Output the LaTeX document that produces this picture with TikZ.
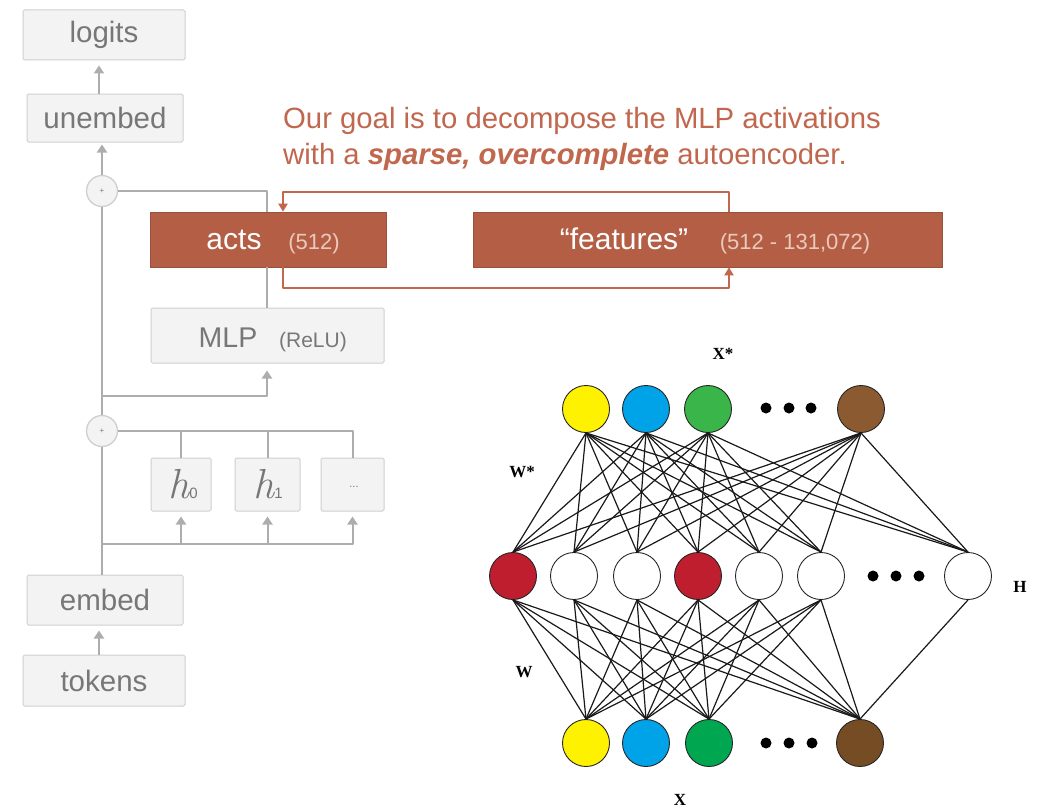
\documentclass[tikz,border=0pt]{standalone}
\usepackage{fontspec}
\setmainfont{Liberation Sans}
\newfontfamily\labfont{Liberation Serif}
\newfontfamily\lmfont{Latin Modern Roman}
\usetikzlibrary{arrows.meta,calc}
\definecolor{gfill}{HTML}{F3F3F3}
\definecolor{gborder}{HTML}{CFCFCF}
\definecolor{gconn}{HTML}{ADADAD}
\definecolor{gtext}{HTML}{777777}
\definecolor{boxred}{HTML}{B45F45}
\definecolor{redline}{HTML}{C0674E}
\definecolor{redlight}{HTML}{EBC9BC}
\definecolor{nyellow}{HTML}{FFF200}
\definecolor{nblue}{HTML}{00A2E8}
\definecolor{ngreenA}{HTML}{39B54A}
\definecolor{ngreenB}{HTML}{00A650}
\definecolor{nbrownA}{HTML}{8C5A30}
\definecolor{nbrownB}{HTML}{754C24}
\definecolor{nred}{HTML}{BE1E2D}
\begin{document}
\begin{tikzpicture}[x=1pt,y=-1pt,
  gbox/.style={draw=gborder, fill=gfill, line width=1pt, rounded corners=1.5pt, inner sep=0pt, text=gtext, font=\fontsize{29.5}{31}\selectfont},
  redbox/.style={fill=boxred, draw=boxred!85!black, line width=0.6pt, inner sep=0pt},
  wtext/.style={text=white, font=\fontsize{30}{32}\selectfont, inner sep=0pt},
  ltext/.style={text=redlight, font=\fontsize{22}{24}\selectfont, inner sep=0pt},
  gtxt/.style={text=gtext, inner sep=0pt},
  gwire/.style={draw=gconn, line width=2pt, line join=round},
  garrow/.style={draw=gconn, line width=2pt, line join=round, -{Triangle[width=10pt,length=8pt]}, shorten >=5pt},
  rarrow/.style={draw=redline, line width=2pt, line join=round, -{Triangle[width=9pt,length=8pt]}},
  pcirc/.style={circle, draw=gborder, fill=gfill, line width=1.3pt, minimum size=31pt, inner sep=0pt, text=gtext, font=\fontsize{8}{8}\selectfont},
  neuron/.style={circle, draw=black!85, line width=0.9pt, minimum size=47pt, inner sep=0pt},
  nedge/.style={draw=black!90, line width=1.2pt},
  ndot/.style={circle, fill=black, minimum size=11pt, inner sep=0pt},
  nlab/.style={font=\labfont\bfseries\fontsize{17}{17}\selectfont, inner sep=0pt},
  title/.style={text=redline, font=\fontsize{29.3}{32}\selectfont, inner sep=0pt}
]
\useasboundingbox (0,0) rectangle (1041,808);

% ---------- left: transformer ----------
\node[gbox, minimum width=162pt, minimum height=50pt] (logits) at (104,35) {logits};
\node[gbox, minimum width=156pt, minimum height=48pt] (unembed) at (105,118) {unembed};
\node[gbox, minimum width=233pt, minimum height=55pt] (MLP) at (267.5,335.5) {};
\node[gtxt, anchor=base, font=\fontsize{28.5}{30}\selectfont] (mlpT) at (228,347) {MLP};
\node[gtxt, anchor=base, font=\fontsize{21}{23}\selectfont] (mlpN) at (313,347) {(ReLU)};
\node[gbox, minimum width=60pt, minimum height=53pt] (h0) at (181,484.5) {};
\node[gbox, minimum width=65pt, minimum height=53pt] (h1) at (267.5,484.5) {};
\node[gbox, minimum width=63pt, minimum height=53pt] (hd) at (352.5,484.5) {};
\node[gtxt, anchor=base] (h0T) at (183,498) {{\lmfont\itshape\fontsize{42}{42}\selectfont h}{\fontsize{15}{15}\selectfont 0}};
\node[gtxt, anchor=base] (h1T) at (268,498) {{\lmfont\itshape\fontsize{42}{42}\selectfont h}{\fontsize{15}{15}\selectfont 1}};
\node[gtxt, font=\fontsize{11}{11}\selectfont] (hdT) at (354,487) {...};
\node[gbox, minimum width=156pt, minimum height=50pt] (embed) at (105,600) {embed};
\node[gbox, minimum width=162pt, minimum height=51pt] (tokens) at (104,680.5) {tokens};
\node[pcirc] (plus1) at (102,191) {+};
\node[pcirc] (plus2) at (102,431) {+};

\coordinate (lx) at (99,0);
\coordinate (mx) at (267,0);
\coordinate (br1) at (102,396);
\coordinate (br2) at (102,544);

\draw[garrow] (tokens.north -| lx) -- (embed.south -| lx);
\draw[gwire] (embed.north -| plus2) -- (plus2.south);
\draw[gwire] (plus2.north) -- (plus1.south);
\draw[garrow, shorten >=2pt] (plus1.north) -- (unembed.south -| plus1);
\draw[garrow] (unembed.north -| lx) -- (logits.south -| lx);
\draw[garrow, shorten >=7pt] (br1) -| (MLP.south -| mx);
\draw[gwire] (h0.north) |- (plus2.east);
\draw[gwire] (h1.north) |- (plus2.east);
\draw[gwire] (hd.north) |- (plus2.east);
\draw[garrow] (br2) -| (h0.south);
\draw[garrow] (br2) -| (h1.south);
\draw[garrow] (br2) -| (hd.south);

% ---------- red autoencoder boxes ----------
\node[redbox, minimum width=236pt, minimum height=55pt] (acts) at (268.5,239.5) {};
\node[wtext, anchor=base] (actsT) at (234,249) {acts};
\node[ltext, anchor=base] (actsN) at (314,249) {(512)};
\node[redbox, minimum width=469pt, minimum height=55pt] (features) at (707.5,239.5) {};
\node[wtext, anchor=base] (featT) at (624,249) {“features”};
\node[ltext, anchor=base] (featN) at (795,249) {(512 - 131,072)};

\draw[gwire] (MLP.north -| mx) -- (acts.south -| mx);
\draw[gwire] (acts.north -| mx) |- (plus1.east);

\coordinate (ax) at (283,0);
\coordinate (fx) at (729,0);
\draw[rarrow] (features.north -| fx) -- ++(0,-20) -| (acts.north -| ax);
\draw[rarrow] (acts.south -| ax) -- ++(0,21) -| (features.south -| fx);

\node[title, anchor=base west] (t1) at (283,128) {Our goal is to decompose the MLP activations};
\node[title, anchor=base west] (t2) at (283,164) {with a \textbf{\textit{sparse, overcomplete}} autoencoder.};

% ---------- right: autoencoder network ----------
\node[neuron, fill=nyellow] (T1) at (586,409) {};
\node[neuron, fill=nblue] (T2) at (646,409) {};
\node[neuron, fill=ngreenA] (T3) at (708,409) {};
\node[neuron, fill=nbrownA] (T4) at (861,409) {};
\node[ndot] (td1) at (766,408) {};
\node[ndot] (td2) at (789,408) {};
\node[ndot] (td3) at (811,408) {};

\node[neuron, fill=nred] (H1) at (513,576) {};
\node[neuron, fill=white] (H2) at (574,576) {};
\node[neuron, fill=white] (H3) at (637,576) {};
\node[neuron, fill=nred] (H4) at (698,576) {};
\node[neuron, fill=white] (H5) at (759,576) {};
\node[neuron, fill=white] (H6) at (821,576) {};
\node[neuron, fill=white] (H7) at (968,576) {};
\node[ndot] (hd1) at (873,576) {};
\node[ndot] (hd2) at (896,576) {};
\node[ndot] (hd3) at (919,576) {};

\node[neuron, fill=nyellow] (B1) at (586,743) {};
\node[neuron, fill=nblue] (B2) at (646,743) {};
\node[neuron, fill=ngreenB] (B3) at (709,743) {};
\node[neuron, fill=nbrownB] (B4) at (860,743) {};
\node[ndot] (bd1) at (766,743) {};
\node[ndot] (bd2) at (789,743) {};
\node[ndot] (bd3) at (812,743) {};

\foreach \t in {1,...,4}{\foreach \h in {1,...,7}{\draw[nedge] (T\t.south) -- (H\h.north);}}
\foreach \b in {1,2,3}{\foreach \h in {1,...,6}{\draw[nedge] (H\h.south) -- (B\b.north);}}
\foreach \h in {1,...,7}{\draw[nedge] (H\h.south) -- (B4.north);}

\node[nlab] (lXs) at (723,354) {X*};
\node[nlab] (lWs) at (522,472) {W*};
\node[nlab] (lH) at (1020,587) {H};
\node[nlab] (lW) at (524,672) {W};
\node[nlab] (lX) at (680,800) {X};
\end{tikzpicture}
\end{document}
